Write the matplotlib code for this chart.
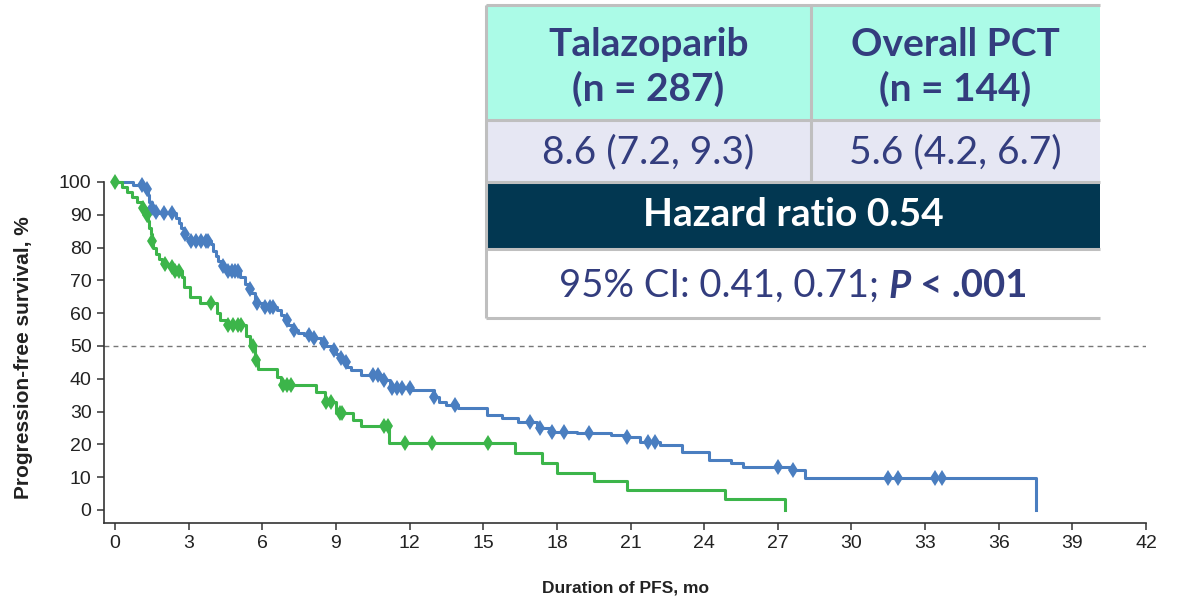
import numpy as np
import matplotlib
matplotlib.use("Agg")
import matplotlib.pyplot as plt
from matplotlib.patches import Rectangle

# Kaplan-Meier step curves: change-point times (months) and survival (%) from that time on
tala_times = [0, 0.75, 1.2, 1.35, 1.4, 1.5, 1.6, 1.8, 2.5, 2.6, 2.7, 2.8, 2.9, 3.0, 3.9, 4.0,
              4.1, 4.2, 4.35, 4.5, 5.1, 5.3, 5.45, 5.55, 5.7, 5.8, 6.0, 6.6, 6.75, 6.9, 7.05,
              7.25, 7.45, 7.7, 8.1, 8.4, 8.6, 8.8, 9.0, 9.15, 9.3, 9.45, 9.6, 10.0, 10.9, 11.2,
              12.1, 13.0, 13.2, 13.5, 13.97, 15.15, 15.76, 16.4, 17.2, 17.8, 18.8, 20.2, 20.85,
              21.4, 22.2, 23.1, 24.2, 25.1, 25.6, 27.5, 28.1, 37.5]
tala_surv = [100, 99, 98, 96, 94, 92, 91, 90.5, 89, 87.5, 86, 84, 83, 82, 81, 79,
             77.5, 76, 74.5, 73, 71, 69, 67.5, 66, 64, 63, 62, 61, 59.5, 58, 56.5,
             55, 54, 53.4, 52.4, 51, 50, 48.8, 47.5, 46.3, 45, 43.6, 42.7, 41.2, 39.6, 37.2,
             36.6, 34.5, 33, 32, 31, 29, 28, 26.8, 25, 23.8, 23.5, 22.9, 22.3,
             20.7, 19.8, 17.7, 15.2, 14.3, 13.1, 12.2, 9.8, 0]
tala_censor = [1.1, 1.3, 1.5, 1.65, 2.0, 2.3, 2.85, 3.1, 3.3, 3.5, 3.7, 3.8, 4.4, 4.6, 4.75,
               4.9, 5.0, 5.5, 5.8, 6.1, 6.3, 6.45, 7.0, 7.3, 7.9, 8.1, 8.5, 8.9, 9.2, 9.4,
               10.5, 10.7, 10.95, 11.3, 11.5, 11.7, 12.0, 13.0, 13.85, 16.9, 17.3, 17.8,
               18.3, 19.3, 20.85, 21.7, 22.0, 27.0, 27.6, 31.5, 31.9, 33.4, 33.7]

pct_times = [0, 0.3, 0.5, 0.7, 0.9, 1.1, 1.25, 1.35, 1.4, 1.45, 1.5, 1.55, 1.65, 1.8, 1.9,
             2.2, 2.4, 2.73, 2.8, 3.05, 3.46, 4.15, 4.28, 4.56, 5.35, 5.5, 5.7, 5.82, 6.6,
             6.75, 8.2, 8.55, 9.0, 9.7, 10.0, 11.15, 16.3, 17.4, 18.0, 19.5, 20.85, 24.85, 27.3]
pct_surv = [100, 98.5, 97, 95.5, 94, 92, 90, 88, 86, 84, 82, 80, 78, 76.5, 75,
            74, 73, 71, 68, 65, 63, 60, 58, 56.4, 53, 50, 45.7, 43, 40.5,
            38, 36, 33, 29.5, 27.4, 25.6, 20.4, 17.4, 14.3, 11.3, 8.8, 6.1, 3.4, 0]
pct_censor = [0.0, 1.15, 1.3, 1.5, 2.05, 2.3, 2.45, 2.6, 3.9, 4.6, 4.8, 5.0, 5.15, 5.6, 5.75,
              6.85, 7.0, 7.15, 8.6, 8.8, 9.15, 9.25, 10.95, 11.1, 11.8, 12.9, 15.2]

x_ticks = list(range(0, 43, 3))
y_ticks = list(range(0, 101, 10))

# Summary table content
col_headers = [["Talazoparib", "(n = 287)"], ["Overall PCT", "(n = 144)"]]
median_pfs = ["8.6 (7.2, 9.3)", "5.6 (4.2, 6.7)"]
hazard_text = "Hazard ratio 0.54"
ci_text = "95% CI: 0.41, 0.71; "
p_text = "P"
p_rest = " < .001"

BLUE = "#4a7ec0"
GREEN = "#3cb54a"
NAVY = "#333d7e"

W, H = 1183, 598
fig = plt.figure(figsize=(W / 100, H / 100), dpi=100)
plt.rcParams["font.family"] = ["Liberation Sans", "DejaVu Sans"]

ax = fig.add_axes([104 / W, 1 - 523 / H, (1146 - 104) / W, (523 - 182) / H])
ax.set_xlim(-0.45, 42)
ax.set_ylim(-4, 100)


def step_value(times, surv, t):
    idx = np.searchsorted(times, t, side="right") - 1
    return np.asarray(surv)[idx]


for times, surv, cens, col in [(tala_times, tala_surv, tala_censor, BLUE),
                               (pct_times, pct_surv, pct_censor, GREEN)]:
    ax.plot(times, surv, drawstyle="steps-post", color=col, lw=2.2, clip_on=False, zorder=3)
    ax.plot(cens, step_value(times, surv, cens), linestyle="none", marker="d",
            ms=8.5, mew=0, color=col, clip_on=False, zorder=4)

ax.axhline(50, color="#777777", lw=1, ls=(0, (3.5, 3)), zorder=1)

for s in ["top", "right"]:
    ax.spines[s].set_visible(False)
for s in ["left", "bottom"]:
    ax.spines[s].set_color("#333333")
    ax.spines[s].set_linewidth(1.2)
ax.set_xticks(x_ticks)
ax.set_yticks(y_ticks)
ax.tick_params(direction="out", length=5, width=1.1, color="#333333",
               labelsize=14, labelcolor="#222222", pad=4)
ax.set_xlabel("Duration of PFS, mo", fontsize=12.5, fontweight="bold", color="#222222")
ax.set_ylabel("Progression-free survival, %", fontsize=15, fontweight="bold", color="#222222")
ax.xaxis.set_label_coords(0.5, -0.168)
ax.yaxis.set_label_coords(-0.068, 0.485)

# Overlay in pixel coordinates for the summary table
ov = fig.add_axes([0, 0, 1, 1], zorder=10)
ov.set_xlim(0, W)
ov.set_ylim(H, 0)
ov.axis("off")

tx0, tx1, tmid = 486, 1100, 811
rows = [(5, 120, "#abfbe7"), (120, 182, "#e6e7f3"), (182, 249, "#023751"), (249, 318, "#ffffff")]
for y0, y1, fc in rows:
    ov.add_patch(Rectangle((tx0, y0), tx1 - tx0, y1 - y0, facecolor=fc, edgecolor="none"))
border = dict(color="#bfbfbf", lw=2.2, solid_capstyle="butt")
for y in [5, 120, 182, 249, 318]:
    ov.plot([tx0, tx1], [y, y], **border)
ov.plot([tx0, tx0], [5, 318], **border)
ov.plot([tmid, tmid], [5, 182], **border)

tfont = ["Lato", "DejaVu Sans"]
centers = [(tx0 + tmid) / 2, (tmid + tx1) / 2]
for cx, (l1, l2), med in zip(centers, col_headers, median_pfs):
    ov.text(cx, 44, l1, ha="center", va="center", fontsize=28, fontweight="bold",
            color=NAVY, family=tfont)
    ov.text(cx, 89, l2, ha="center", va="center", fontsize=28, fontweight="bold",
            color=NAVY, family=tfont)
    ov.text(cx, 152, med, ha="center", va="center", fontsize=28, color=NAVY, family=tfont)
ov.text((tx0 + tx1) / 2, 215, hazard_text, ha="center", va="center", fontsize=28,
        fontweight="bold", color="white", family=tfont)

# CI line with bold-italic P value part
t1 = ov.text(0, 286, ci_text, ha="left", va="center", fontsize=27.5, color=NAVY, family=tfont)
t2 = ov.text(0, 286, p_text, ha="left", va="center", fontsize=27.5, color=NAVY, family=tfont,
             fontweight="bold", fontstyle="italic")
t3 = ov.text(0, 286, p_rest, ha="left", va="center", fontsize=27.5, color=NAVY, family=tfont,
             fontweight="bold")
fig.canvas.draw()
r = fig.canvas.get_renderer()
inv = ov.transData.inverted()
widths = []
for t in (t1, t2, t3):
    bb = t.get_window_extent(r)
    p0 = inv.transform((bb.x0, bb.y0))
    p1 = inv.transform((bb.x1, bb.y0))
    widths.append(p1[0] - p0[0])
x = (tx0 + tx1) / 2 - sum(widths) / 2
for t, w in zip((t1, t2, t3), widths):
    t.set_x(x)
    x += w

fig.savefig("out.png", dpi=100, facecolor="white")
